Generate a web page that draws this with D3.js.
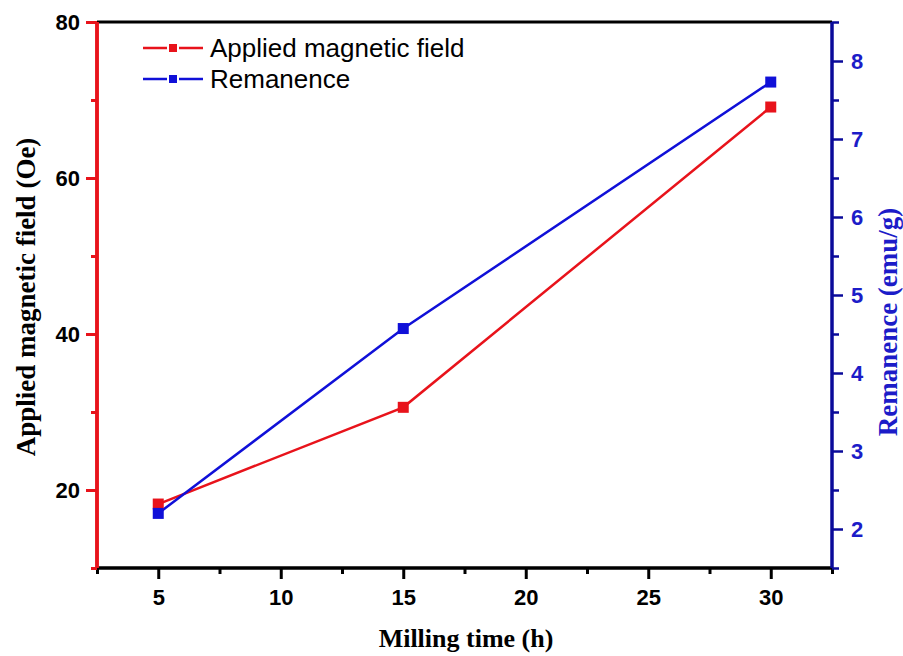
<!DOCTYPE html>
<html>
<head>
<meta charset="utf-8">
<script src="https://cdn.jsdelivr.net/npm/d3@7"></script>
<style>
  html, body { margin: 0; padding: 0; background: #fff; }
  svg { display: block; }
</style>
</head>
<body>
<svg id="chart" width="903" height="656"></svg>
<script>
// Milling time (h)
const millingTime = [5, 15, 30];
// Applied magnetic field (Oe)
const appliedField = [18.2, 30.6, 69.1];
// Remanence (emu/g)
const remanence = [2.2, 4.57, 7.73];

const xTicks = [5, 10, 15, 20, 25, 30];
const xMinor = [2.5, 7.5, 12.5, 17.5, 22.5, 27.5, 32.5];
const leftTicks = [20, 40, 60, 80];
const leftMinor = [10, 30, 50, 70];
const rightTicks = [2, 3, 4, 5, 6, 7, 8];
const rightMinor = [1.5, 2.5, 3.5, 4.5, 5.5, 6.5, 7.5, 8.5];

const seriesNames = ["Applied magnetic field", "Remanence"];

const m = { left: 97, right: 832, top: 22, bottom: 568 };
const RED = "#e8131b", BLUE = "#1010d8", NAVY = "#0a0a9a", BLUE_TXT = "#1c1cc8";

const svg = d3.select("#chart");

const x = d3.scaleLinear().domain([2.5, 32.5]).range([m.left, m.right]);
const yL = d3.scaleLinear().domain([10, 80]).range([m.bottom, m.top]);
const yR = d3.scaleLinear().domain([1.5, 8.5]).range([m.bottom, m.top]);

const tickFont = "'Liberation Sans', Arial, sans-serif";
const titleFont = "'Liberation Serif', 'Times New Roman', serif";
const tickSize = "22px";

// top frame line
svg.append("line")
  .attr("x1", m.left).attr("x2", m.right)
  .attr("y1", m.top).attr("y2", m.top)
  .attr("stroke", "#000").attr("stroke-width", 3);

// bottom axis
const gx = svg.append("g").attr("transform", `translate(0,${m.bottom})`);
gx.call(d3.axisBottom(x).tickValues(xTicks).tickSize(11).tickPadding(10).tickFormat(d3.format("d")));
gx.append("g").call(d3.axisBottom(x).tickValues(xMinor).tickSize(6).tickFormat(""));
gx.selectAll(".domain").attr("stroke", "#000").attr("stroke-width", 3).attr("d", `M${m.left},0H${m.right}`);
gx.selectAll(".tick line").attr("stroke", "#000").attr("stroke-width", 3);
gx.selectAll(".tick text").attr("fill", "#000")
  .style("font-family", tickFont).style("font-weight", "bold").style("font-size", tickSize);

// left axis (red)
const gl = svg.append("g").attr("transform", `translate(${m.left},0)`);
gl.call(d3.axisLeft(yL).tickValues(leftTicks).tickSize(11).tickPadding(6).tickFormat(d3.format("d")));
gl.append("g").call(d3.axisLeft(yL).tickValues(leftMinor).tickSize(6).tickFormat(""));
gl.selectAll(".domain").attr("stroke", RED).attr("stroke-width", 3.5).attr("d", `M0,${m.top}V${m.bottom}`);
gl.selectAll(".tick line").attr("stroke", RED).attr("stroke-width", 3);
gl.selectAll(".tick text").attr("fill", "#000")
  .style("font-family", tickFont).style("font-weight", "bold").style("font-size", tickSize);

// right axis (blue)
const gr = svg.append("g").attr("transform", `translate(${m.right},0)`);
gr.call(d3.axisRight(yR).tickValues(rightTicks).tickSize(11).tickPadding(8).tickFormat(d3.format("d")));
gr.append("g").call(d3.axisRight(yR).tickValues(rightMinor).tickSize(7).tickFormat(""));
gr.selectAll(".domain").attr("stroke", NAVY).attr("stroke-width", 3).attr("d", `M0,${m.top}V${m.bottom}`);
gr.selectAll(".tick line").attr("stroke", NAVY).attr("stroke-width", 2.5);
gr.selectAll(".tick text").attr("fill", BLUE_TXT)
  .style("font-family", tickFont).style("font-weight", "bold").style("font-size", tickSize);

// series
const fieldData = millingTime.map((t, i) => ({ t, v: appliedField[i] }));
const remData = millingTime.map((t, i) => ({ t, v: remanence[i] }));

const lineL = d3.line().x(d => x(d.t)).y(d => yL(d.v));
const lineR = d3.line().x(d => x(d.t)).y(d => yR(d.v));

svg.append("path").datum(fieldData).attr("d", lineL)
  .attr("fill", "none").attr("stroke", RED).attr("stroke-width", 2.5);
svg.append("path").datum(remData).attr("d", lineR)
  .attr("fill", "none").attr("stroke", BLUE).attr("stroke-width", 2.5);

const S = 11;
svg.selectAll("rect.field").data(fieldData).enter().append("rect")
  .attr("class", "field")
  .attr("x", d => x(d.t) - S / 2).attr("y", d => yL(d.v) - S / 2)
  .attr("width", S).attr("height", S).attr("fill", RED);
svg.selectAll("rect.rem").data(remData).enter().append("rect")
  .attr("class", "rem")
  .attr("x", d => x(d.t) - S / 2).attr("y", d => yR(d.v) - S / 2)
  .attr("width", S).attr("height", S).attr("fill", BLUE);

// legend
const legend = svg.append("g").attr("transform", "translate(143,48)");
[RED, BLUE].forEach((c, i) => {
  const g = legend.append("g").attr("transform", `translate(0,${i * 31})`);
  g.append("line").attr("x1", 0).attr("x2", 60).attr("y1", 0).attr("y2", 0)
    .attr("stroke", c).attr("stroke-width", 2.5);
  g.append("rect").attr("x", 30 - 5).attr("y", -5).attr("width", 10).attr("height", 10)
    .attr("fill", c).attr("stroke", "#fff").attr("stroke-width", 2);
  g.append("text").attr("x", 67).attr("y", 0).attr("dy", "0.35em")
    .style("font-family", tickFont).style("font-size", "26px").attr("fill", "#000")
    .text(seriesNames[i]);
});

// axis titles
svg.append("text")
  .attr("transform", `translate(466,647)`)
  .attr("text-anchor", "middle")
  .style("font-family", titleFont).style("font-weight", "bold").style("font-size", "26px")
  .attr("fill", "#000").text("Milling time (h)");

svg.append("text")
  .attr("transform", "translate(35,297) rotate(-90)")
  .attr("text-anchor", "middle")
  .style("font-family", titleFont).style("font-weight", "bold").style("font-size", "27px")
  .attr("fill", "#000").text("Applied magnetic field (Oe)");

svg.append("text")
  .attr("transform", "translate(897,322) rotate(-90)")
  .attr("text-anchor", "middle")
  .style("font-family", titleFont).style("font-weight", "bold").style("font-size", "27px")
  .attr("fill", BLUE_TXT).text("Remanence (emu/g)");
</script>
</body>
</html>
